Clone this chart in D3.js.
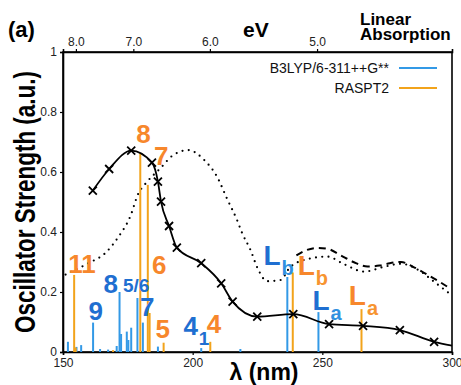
<!DOCTYPE html>
<html>
<head>
<meta charset="utf-8">
<script src="https://cdn.jsdelivr.net/npm/d3@7"></script>
<style>
  body { margin: 0; background: #fff; }
  svg { font-family: "Liberation Sans", Arial, sans-serif; }
  .tick text { font-size: 12px; fill: #222; }
</style>
</head>
<body>
<svg id="chart" width="461" height="385"></svg>
<script>
// stick spectra: [wavelength nm, oscillator strength]
const blueSticks = [
  [151.9, 0.034], [155.2, 0.017], [157.0, 0.023], [161.6, 0.098], [164.3, 0.01],
  [167.4, 0.008], [170.7, 0.02], [171.8, 0.2], [172.4, 0.06], [174.6, 0.068],
  [175.2, 0.04], [176.3, 0.081], [178.7, 0.18], [180.8, 0.098], [186.6, 0.018],
  [203.3, 0.013], [218.4, 0.01], [236.5, 0.25], [248.5, 0.133]
];
const orangeSticks = [
  [154.3, 0.257], [154.9, 0.015], [169.3, 0.006], [179.8, 0.664], [182.7, 0.557],
  [183.4, 0.13], [188.8, 0.031], [206.8, 0.034], [238.6, 0.265], [265.1, 0.143]
];

// experimental absorption (solid, with markers)
const expCurve = [
  [161.5, 0.538], [167.8, 0.61], [176.3, 0.671], [184.3, 0.631], [186.6, 0.568],
  [187.8, 0.501], [190.9, 0.42], [193.9, 0.348], [203.3, 0.296], [211, 0.229],
  [215.4, 0.168], [224.9, 0.118], [238.8, 0.126], [252.6, 0.093], [265.7, 0.087],
  [279.9, 0.073], [293.1, 0.034], [300, 0.021]
];
// simulated linear absorption (dotted)
const dotCurve = [
  [151, 0.258], [159.8, 0.296], [166.2, 0.329], [171.4, 0.384], [175.9, 0.451],
  [179.1, 0.529], [181.7, 0.56], [187.5, 0.612], [192.6, 0.657], [198.4, 0.673],
  [204.2, 0.642], [209.4, 0.584], [213.3, 0.51], [217.1, 0.44], [219.1, 0.396],
  [222.3, 0.34], [225, 0.28], [228.7, 0.236], [233.9, 0.24], [237.7, 0.284],
  [245.5, 0.312], [251.9, 0.318], [258.3, 0.293], [266.1, 0.268], [273.8, 0.284],
  [280.3, 0.294], [288, 0.268], [293.1, 0.234], [298.9, 0.196]
];
// second simulated band (dashed)
const dashCurve = [
  [240, 0.322], [244, 0.34], [248, 0.347], [252, 0.344], [257.1, 0.322],
  [262, 0.3], [267.4, 0.285], [272, 0.288], [276, 0.296], [280.3, 0.3],
  [285, 0.284], [290.6, 0.257], [295, 0.235], [299.6, 0.21]
];

// state labels: [text, series, wavelength, strength]
const stateLabels = [
  ['8', 'o', 181.0, 0.697], ['7', 'o', 187.9, 0.623],
  ['11', 'o', 157.3, 0.263], ['6', 'o', 187.1, 0.26],
  ['8', 'b', 168.4, 0.197], ['9', 'b', 162.6, 0.107],
  ['7', 'b', 182.5, 0.12], ['5', 'o', 188.5, 0.047],
  ['4', 'b', 199.3, 0.057], ['4', 'o', 208.2, 0.063]
];
const smallLabels = [['5/6', 'b', 178.2, 0.2], ['1', 'b', 204.4, 0.023]];
// [letter, subscript, series, wavelength, strength]
const lLabels = [
  ['L', 'b', 'b', 227.3, 0.29], ['L', 'b', 'o', 240.5, 0.257],
  ['L', 'a', 'b', 246.2, 0.14], ['L', 'a', 'o', 260.2, 0.157]
];

const xTicks = [150, 200, 250, 300];
const yTicks = [0, 0.2, 0.4, 0.6, 0.8, 1];
const eVTicks = [8, 7, 6, 5];
const legendItems = ['B3LYP/6-311++G**', 'RASPT2'];

const colors = {
  bStick: '#3399e6', oStick: '#f2a31b',
  bLabel: '#1f6fd1', oLabel: '#f7872c',
  bSub: '#2f90e0', oSub: '#f79430'
};

const svg = d3.select('#chart');
const x = d3.scaleLinear().domain([150, 300]).range([63, 452]);
const y = d3.scaleLinear().domain([0, 1]).range([352, 52]);

// frame
svg.append('rect')
  .attr('x', x(150)).attr('y', y(1))
  .attr('width', x(300) - x(150)).attr('height', y(0) - y(1))
  .attr('fill', 'none').attr('stroke', '#000').attr('stroke-width', 1.6);

// axes
const gx = svg.append('g').attr('transform', `translate(0,${y(0)})`)
  .call(d3.axisBottom(x).tickValues(xTicks).tickSize(3).tickPadding(3).tickFormat(d3.format('d')));
const gy = svg.append('g').attr('transform', `translate(${x(150)},0)`)
  .call(d3.axisLeft(y).tickValues(yTicks).tickSize(3).tickPadding(3).tickFormat(d => d === 0 || d === 1 ? d : d.toFixed(1)));
const gt = svg.append('g').attr('transform', `translate(0,${y(1)})`)
  .call(d3.axisTop(x).tickValues(eVTicks.map(e => 1239.84 / e)).tickSize(3).tickPadding(3)
    .tickFormat((d, i) => eVTicks[i].toFixed(1)));
[gx, gy, gt].forEach(g => {
  g.select('.domain').attr('stroke-width', 1.6);
  g.selectAll('.tick line').attr('stroke-width', 1.2);
});

// curves
const line = d3.line().x(d => x(d[0])).y(d => y(d[1])).curve(d3.curveMonotoneX);

svg.append('path').datum(dotCurve)
  .attr('d', line).attr('fill', 'none').attr('stroke', '#000')
  .attr('stroke-width', 2.2).attr('stroke-linecap', 'round').attr('stroke-dasharray', '0 6.3');

svg.append('path').datum(dashCurve)
  .attr('d', line).attr('fill', 'none').attr('stroke', '#000')
  .attr('stroke-width', 2).attr('stroke-dasharray', '7 5');

// sticks
svg.append('g').selectAll('line').data(blueSticks).join('line')
  .attr('x1', d => x(d[0])).attr('x2', d => x(d[0]))
  .attr('y1', y(0)).attr('y2', d => y(d[1]))
  .attr('stroke', colors.bStick).attr('stroke-width', 2);

svg.append('g').selectAll('line').data(orangeSticks).join('line')
  .attr('x1', d => x(d[0])).attr('x2', d => x(d[0]))
  .attr('y1', y(0)).attr('y2', d => y(d[1]))
  .attr('stroke', colors.oStick).attr('stroke-width', 2);

svg.append('path').datum(expCurve)
  .attr('d', line).attr('fill', 'none').attr('stroke', '#000').attr('stroke-width', 1.8);

svg.append('g').selectAll('path').data(expCurve.slice(0, -1)).join('path')
  .attr('transform', d => `translate(${x(d[0])},${y(d[1])})`)
  .attr('d', 'M-4,-4L4,4M-4,4L4,-4')
  .attr('stroke', '#000').attr('stroke-width', 1.8);

// labels
svg.append('g').selectAll('text').data(stateLabels).join('text')
  .attr('x', d => x(d[2])).attr('y', d => y(d[3]))
  .attr('text-anchor', 'middle').attr('font-weight', 'bold').attr('font-size', 26)
  .attr('fill', d => d[1] === 'o' ? colors.oLabel : colors.bLabel)
  .text(d => d[0]);

svg.append('g').selectAll('text').data(smallLabels).join('text')
  .attr('x', d => x(d[2])).attr('y', d => y(d[3]))
  .attr('text-anchor', 'middle').attr('font-weight', 'bold').attr('font-size', 19)
  .attr('fill', colors.bLabel)
  .text(d => d[0]);

const lt = svg.append('g').selectAll('text').data(lLabels).join('text')
  .attr('x', d => x(d[3])).attr('y', d => y(d[4]))
  .attr('font-weight', 'bold');
lt.append('tspan').attr('font-size', 28)
  .attr('fill', d => d[2] === 'o' ? colors.oLabel : colors.bLabel).text(d => d[0]);
lt.append('tspan').attr('font-size', 20).attr('dy', 10).attr('dx', 1)
  .attr('fill', d => d[2] === 'o' ? colors.oSub : colors.bSub).text(d => d[1]);

// legend
legendItems.forEach((name, i) => {
  const ly = 68 + i * 20;
  svg.append('text').attr('x', 389).attr('y', ly + 5).attr('text-anchor', 'end')
    .attr('font-size', 14).attr('fill', '#111').text(name);
  svg.append('line').attr('x1', 399).attr('x2', 437).attr('y1', ly).attr('y2', ly)
    .attr('stroke', i === 0 ? colors.bStick : colors.oStick).attr('stroke-width', 2);
});

// titles
svg.append('text').attr('x', 8).attr('y', 37).attr('font-weight', 'bold')
  .attr('font-size', 22).text('(a)');
svg.append('text').attr('x', 243).attr('y', 37).attr('font-weight', 'bold')
  .attr('font-size', 21).text('eV');
svg.append('text').attr('x', 360).attr('y', 25)
  .attr('font-weight', 'bold').attr('font-size', 17).text('Linear');
svg.append('text').attr('x', 360).attr('y', 40)
  .attr('font-weight', 'bold').attr('font-size', 17).text('Absorption');
svg.append('text').attr('x', 264).attr('y', 380).attr('text-anchor', 'middle')
  .attr('font-weight', 'bold').attr('font-size', 23).text('λ (nm)');
svg.append('text')
  .attr('transform', 'translate(35,202) rotate(-90)')
  .attr('text-anchor', 'middle').attr('font-weight', 'bold').attr('font-size', 29)
  .attr('textLength', 262).attr('lengthAdjust', 'spacingAndGlyphs')
  .text('Oscillator Strength (a.u.)');
</script>
</body>
</html>
